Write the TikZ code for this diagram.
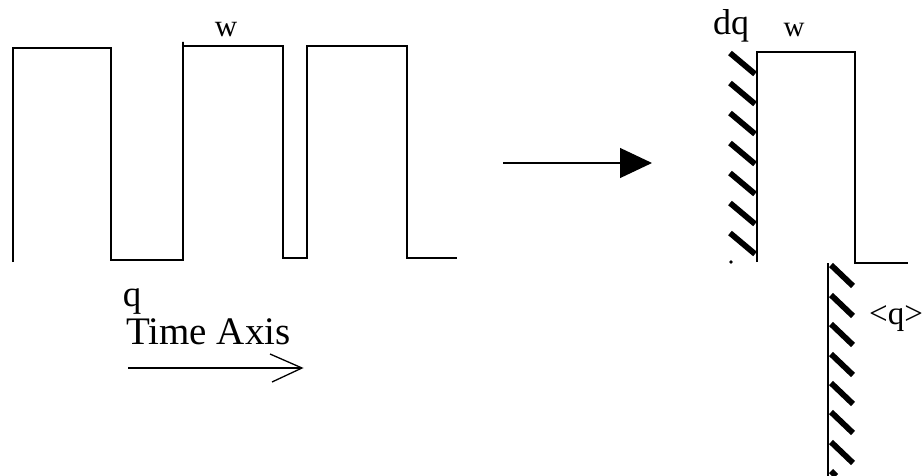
\documentclass[tikz,border=0pt]{standalone}
\usepackage{fontspec}
\setmainfont{Liberation Serif}
\usetikzlibrary{arrows.meta}
\tikzset{
  wave/.style={line width=1.6pt, line join=miter},
  hatch/.style={line width=5.8pt},
  lbl/.style={inner sep=0pt, anchor=base},
}
\begin{document}
\begin{tikzpicture}[x=1pt, y=-1pt]
\useasboundingbox (0,0) rectangle (923,476);

% pulse train along the time axis
\draw[wave] (13,262) -- (13,48) -- (111,48) -- (111,260) -- (183,260)
  -- (183,42) -- (183,46) -- (283,46) -- (283,258) -- (307,258)
  -- (307,46) -- (407,46) -- (407,258) -- (457,258);
\node[lbl, font=\fontsize{31}{31}\selectfont] (w1) at (226,37) {w};

% time axis label and arrow
\node[lbl, font=\fontsize{37}{37}\selectfont] (q1) at (132,306) {q};
\node[lbl, anchor=base west, font=\fontsize{39}{39}\selectfont] (tx) at (126,344) {Time Axis};
\coordinate (ta0) at (128,368);
\coordinate (ta1) at (302,368);
\draw[line width=1.3pt] (ta0) -- (ta1);
\draw[line width=1.3pt] (270,354) -- (ta1) -- (272,382);

% transformation arrow
\coordinate (m0) at (503,163);
\coordinate (m1) at (652,163);
\draw[line width=1.2pt, -{Triangle[length=32pt, width=30pt]}] (m0) -- (m1);

% single pulse with hatched boundaries
\draw[wave] (757,262) -- (757,52) -- (855,52) -- (855,263) -- (908,263);
\draw[line width=1.6pt] (828,263) -- (828,476);
\foreach \y in {53,83,113,143,173,203,233}
  \draw[hatch] (730,\y) -- (755,\y+21);
\fill (731,262) circle (1.8pt);
\foreach \y in {265,295,324,354,383,412,442}
  \draw[hatch] (831,\y) -- (853,\y+21);
\draw[hatch] (831,471) -- (836,476);

\node[lbl, font=\fontsize{36}{36}\selectfont] (dq) at (731,35) {dq};
\node[lbl, font=\fontsize{29}{29}\selectfont] (w2) at (794,37) {w};
\node[lbl, font=\fontsize{33}{33}\selectfont] (mq) at (896,324) {<q>};
\end{tikzpicture}
\end{document}
